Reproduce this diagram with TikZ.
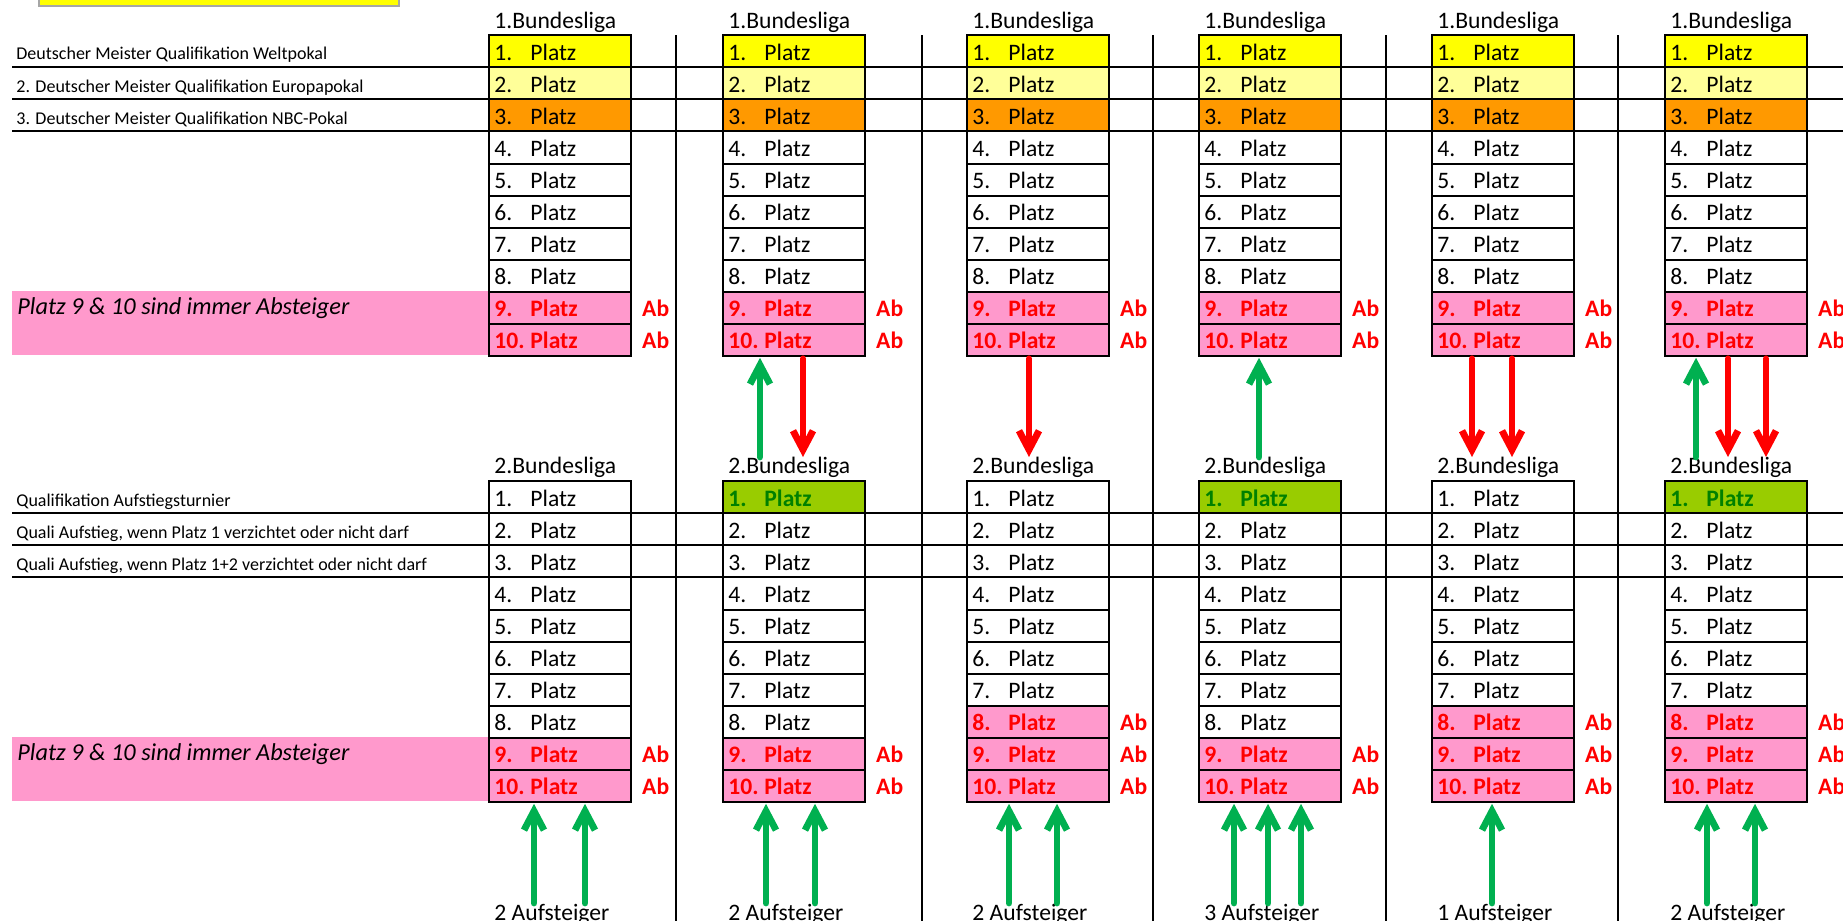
\documentclass[tikz,border=0pt]{standalone}
\usepackage{fontspec}
\setmainfont{Carlito}
\usetikzlibrary{arrows.meta,calc}
\definecolor{cyel}{HTML}{FFFF00}
\definecolor{clyel}{HTML}{FFFF99}
\definecolor{corg}{HTML}{FF9900}
\definecolor{cpink}{HTML}{FF99CC}
\definecolor{cred}{HTML}{FF0000}
\definecolor{cgreen}{HTML}{99CC00}
\definecolor{cdgreen}{HTML}{008000}
\definecolor{carrowg}{HTML}{00B050}
\definecolor{cgraybox}{HTML}{A6A6A6}
\newcommand{\bigf}{\fontsize{11.8pt}{14pt}\selectfont}
\newcommand{\legf}{\fontsize{12.15pt}{14.5pt}\selectfont}
\newcommand{\smallf}{\fontsize{9pt}{10.8pt}\selectfont}
\newcommand{\plz}[1]{\makebox[65.5pt][l]{\makebox[18pt][l]{#1}Platz}}
\begin{document}
\begin{tikzpicture}[x=0.5pt,y=-0.5pt,
  cell/.style={rectangle, anchor=north west, minimum width=70.5pt, minimum height=16pt,
    inner sep=0pt, text height=12.5pt, text depth=3.5pt, font=\bigf},
  plaincell/.style={},
  pinkcell/.style={fill=cpink, text=cred, font=\bigf\bfseries},
  greencell/.style={fill=cgreen, text=cdgreen, font=\bigf\bfseries},
  rowU1/.style={fill=cyel}, rowU2/.style={fill=clyel}, rowU3/.style={fill=corg},
  rowU4/.style={plaincell}, rowU5/.style={plaincell}, rowU6/.style={plaincell},
  rowU7/.style={plaincell}, rowU8/.style={plaincell},
  rowU9/.style={pinkcell}, rowU10/.style={pinkcell},
  abtext/.style={anchor=base west, inner sep=0pt, text=cred, font=\bigf\bfseries},
  hdr/.style={anchor=base west, inner sep=0pt, font=\bigf},
  lbl/.style={anchor=base west, inner sep=0pt, font=\smallf},
  legend/.style={anchor=base west, inner sep=0pt, font=\legf\itshape},
  bord/.style={draw=black, line width=1.3pt},
  thinl/.style={draw=black, line width=0.6pt},
  sepl/.style={draw=black, line width=1.2pt},
  garrow/.style={draw=carrowg, line width=3.4pt, line cap=round, line join=round,
    -{Straight Barb[length=9.5pt,width=10pt]}, shorten >=1pt},
  rarrow/.style={draw=cred, line width=3.4pt, line cap=round, line join=round,
    -{Straight Barb[length=9.5pt,width=10pt]}, shorten <=1.5pt}
]
\useasboundingbox (0,0) rectangle (1843,921);

% top-left yellow box (partly off the page)
\node[draw=cgraybox, fill=cyel, line width=0.8pt, anchor=south west, minimum width=180pt,
  minimum height=12pt, inner sep=0pt] (ybox) at (38,7) {};

% pink legend bands
\fill[cpink] (12,291) rectangle (489,355);
\fill[cpink] (12,737) rectangle (489,801);
\node[legend] (leg1) at (17,314) {Platz 9 \& 10 sind immer Absteiger};
\node[legend] (leg2) at (17,760) {Platz 9 \& 10 sind immer Absteiger};

% left labels
\node[lbl] (t1) at (16,60) {Deutscher Meister Qualifikation Weltpokal};
\node[lbl] (t2) at (16,92) {2. Deutscher Meister Qualifikation Europapokal};
\node[lbl] (t3) at (16,124) {3. Deutscher Meister Qualifikation NBC-Pokal};
\node[lbl] (t4) at (16,506) {Qualifikation Aufstiegsturnier};
\node[lbl] (t5) at (16,538) {Quali Aufstieg, wenn Platz 1 verzichtet oder nicht darf};
\node[lbl] (t6) at (16,570) {Quali Aufstieg, wenn Platz 1+2 verzichtet oder nicht darf};

% upper tables
\foreach \c/\x in {1/489,2/723,3/967,4/1199,5/1432,6/1665}{
  \foreach \r in {1,...,10}{
    \node[cell,rowU\r] (u\c-\r) at (\x,{35+32*(\r-1)}) {\plz{\r.}};
  }
  \foreach \r in {9,10}{
    \node[abtext] (abu\c-\r) at ($(u\c-\r.north east)+(11,25)$) {Ab};
  }
  \node[hdr] (hu\c) at (\x+5,28) {1.Bundesliga};
}

% lower tables: column/left/green first row/first pink row/number of risers
\foreach \c/\x/\g/\p/\n in {1/489/0/9/2,2/723/1/9/2,3/967/0/8/2,4/1199/1/9/3,5/1432/0/8/1,6/1665/1/8/2}{
  \foreach \r in {1,...,10}{
    \ifnum\r<\p
      \ifnum\r=1 \ifnum\g=1 \def\st{greencell}\else\def\st{plaincell}\fi
      \else \def\st{plaincell}\fi
    \else \def\st{pinkcell}\fi
    \node[cell,\st] (l\c-\r) at (\x,{481+32*(\r-1)}) {\plz{\r.}};
    \ifnum\r<\p\else
      \node[abtext] (abl\c-\r) at ($(l\c-\r.north east)+(11,25)$) {Ab};
    \fi
  }
  \node[hdr] (hl\c) at (\x+5,473) {2.Bundesliga};
  \node[hdr] (au\c) at (\x+5,920) {\n\ Aufsteiger};
}

% thin full-width lines
\foreach \y in {67,99,131,513,545,577}{
  \draw[thinl] (12,\y) -- (1843,\y);
}

% thick borders
\foreach \t in {u,l}{
  \foreach \c in {1,...,6}{
    \draw[bord] (\t\c-1.north west) rectangle (\t\c-10.south east);
    \foreach \r in {4,...,9}{
      \draw[bord] (\t\c-\r.south west) -- (\t\c-\r.south east);
    }
  }
}

% vertical separators
\foreach \x in {676,922,1153,1386,1618}{
  \draw[sepl] (\x,35) -- (\x,921);
}

% middle arrows: promotions (green, up)
\foreach \c/\x in {2/760,4/1259,6/1696}{
  \coordinate (mg\c-\x) at (\x,457);
  \draw[garrow] (mg\c-\x) -- (mg\c-\x |- u\c-10.south);
}
% middle arrows: relegations (red, down)
\foreach \c/\x in {2/803,3/1029,5/1472,5/1512,6/1728,6/1766}{
  \coordinate (mr\c-\x) at (\x,457);
  \draw[rarrow] (mr\c-\x |- u\c-10.south) -- (mr\c-\x);
}
% bottom arrows: risers
\foreach \c/\x in {1/534,1/585,2/766,2/815,3/1009,3/1057,4/1234,4/1268,4/1301,5/1492,6/1707,6/1755}{
  \coordinate (bg\c-\x) at (\x,903);
  \draw[garrow] (bg\c-\x) -- (bg\c-\x |- l\c-10.south);
}
\end{tikzpicture}
\end{document}
